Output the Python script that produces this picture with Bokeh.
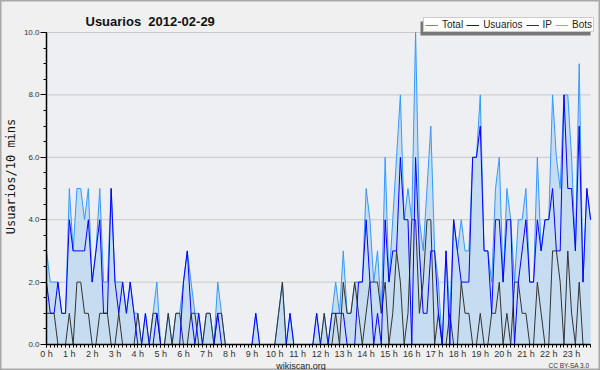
import math
from bokeh.plotting import figure
from bokeh.models import Range1d, FixedTicker, Label, Legend, LegendItem, BoxAnnotation
from bokeh.embed import file_html
from bokeh.resources import INLINE

# ---------------- data (10-minute slots, 2012-02-29) ----------------
hours = ["0 h", "1 h", "2 h", "3 h", "4 h", "5 h", "6 h", "7 h", "8 h", "9 h",
         "10 h", "11 h", "12 h", "13 h", "14 h", "15 h", "16 h", "17 h", "18 h",
         "19 h", "20 h", "21 h", "22 h", "23 h"]

total = [3, 2, 2, 2, 1, 1, 5, 3, 5, 5, 4, 5,
         2, 3, 5, 2, 2, 5, 2, 2, 2, 1, 2, 1,
         1, 0, 1, 0, 1, 2, 0, 0, 1, 0, 1, 1,
         2, 3, 2, 1, 1, 0, 1, 1, 0, 2, 1, 0,
         0, 0, 0, 0, 0, 0, 0, 1, 0, 0, 0, 0,
         0, 1, 2, 0, 1, 0, 0, 0, 0, 0, 0, 1,
         0, 1, 0, 1, 2, 1, 3, 1, 1, 2, 2, 2,
         5, 4, 2, 3, 1, 6, 2, 4, 6, 8, 4, 5,
         4, 10, 4, 3, 5, 7, 3, 2, 0, 3, 1, 4,
         3, 4, 3, 3, 6, 6, 8, 3, 3, 2, 5, 6,
         2, 5, 4, 2, 4, 4, 5, 2, 2, 6, 3, 4,
         4, 8, 6, 5, 8, 8, 6, 3, 9, 2, 5, 4]

usuarios = [2, 1, 1, 2, 1, 1, 4, 3, 3, 3, 3, 4,
            2, 3, 4, 1, 1, 5, 2, 1, 2, 1, 2, 1,
            0, 0, 1, 0, 0, 1, 0, 0, 0, 0, 0, 0,
            2, 3, 1, 0, 1, 0, 0, 0, 0, 1, 0, 0,
            0, 0, 0, 0, 0, 0, 0, 1, 0, 0, 0, 0,
            0, 0, 0, 0, 1, 0, 0, 0, 0, 0, 0, 1,
            0, 0, 0, 1, 1, 1, 1, 0, 0, 0, 2, 2,
            4, 2, 0, 1, 0, 4, 2, 3, 3, 6, 4, 4,
            0, 6, 3, 1, 1, 3, 3, 1, 0, 3, 0, 4,
            3, 2, 2, 2, 6, 6, 7, 3, 3, 1, 4, 4,
            2, 4, 4, 0, 2, 3, 4, 2, 2, 4, 3, 4,
            4, 5, 3, 3, 8, 5, 5, 3, 7, 2, 5, 4]

ip = [1, 1, 1, 0, 0, 0, 1, 0, 2, 2, 1, 1,
      0, 0, 1, 1, 1, 0, 0, 1, 0, 0, 0, 0,
      1, 0, 0, 0, 1, 1, 0, 0, 1, 0, 1, 1,
      0, 0, 1, 1, 0, 0, 1, 1, 0, 1, 1, 0,
      0, 0, 0, 0, 0, 0, 0, 0, 0, 0, 0, 0,
      0, 1, 2, 0, 0, 0, 0, 0, 0, 0, 0, 0,
      0, 1, 0, 0, 1, 0, 2, 1, 1, 2, 1, 0,
      1, 2, 2, 2, 1, 2, 0, 1, 3, 2, 0, 1,
      4, 4, 1, 2, 4, 4, 0, 1, 0, 0, 1, 0,
      0, 2, 1, 1, 0, 0, 1, 0, 0, 1, 1, 2,
      0, 1, 0, 2, 2, 1, 1, 0, 0, 2, 1, 0,
      0, 3, 3, 2, 0, 3, 1, 0, 2, 0, 0, 0]

bots = [0, 0, 0, 0, 0, 0, 0, 0, 0, 0, 0, 0,
        0, 0, 0, 0, 0, 0, 0, 0, 0, 0, 0, 0,
        0, 0, 0, 0, 0, 0, 0, 0, 0, 0, 0, 0,
        0, 0, 0, 0, 0, 0, 0, 0, 0, 0, 0, 0,
        0, 0, 0, 0, 0, 0, 0, 0, 0, 0, 0, 0,
        0, 0, 0, 0, 0, 0, 0, 0, 0, 0, 0, 0,
        0, 0, 0, 0, 0, 0, 0, 0, 0, 0, 0, 0,
        0, 0, 0, 0, 0, 0, 0, 0, 0, 0, 0, 0,
        0, 0, 0, 0, 0, 0, 0, 0, 0, 0, 0, 0,
        0, 0, 0, 0, 0, 0, 0, 0, 0, 0, 0, 0,
        0, 0, 0, 0, 0, 0, 0, 0, 0, 0, 0, 0,
        0, 0, 0, 0, 0, 0, 0, 0, 0, 0, 0, 0]

y_ticks = [0, 2, 4, 6, 8, 10]
y_labels = ["0.0", "2.0", "4.0", "6.0", "8.0", "10.0"]

# ---------------- layout (pixels) ----------------
W, H = 600, 370
X0_PX, STEP_PX = 46.0, 3.805      # x pixel of slot 0, pixels per 10-min slot
Y0_PX, UNIT_PX = 344.0, 31.2      # y pixel of value 0, pixels per unit

slots = list(range(len(total)))
hour_slots = [6 * h for h in range(len(hours))]
y_minor = [k / 2 for k in range(0, 21)]

x_lo = -X0_PX / STEP_PX
x_hi = (W - X0_PX) / STEP_PX
y_hi = Y0_PX / UNIT_PX
y_lo = -(H - Y0_PX) / UNIT_PX

FONT = "Liberation Sans"

p = figure(width=W, height=H, output_backend="svg", toolbar_location=None,
           title=None,
           x_range=Range1d(x_lo, x_hi), y_range=Range1d(y_lo, y_hi),
           min_border=0, min_border_left=0, min_border_right=0,
           min_border_top=0, min_border_bottom=0,
           background_fill_color="#f0f0f0", border_fill_color="#f0f0f0",
           outline_line_color="#a8a8a8", outline_line_width=2)

# plot area background
p.add_layout(BoxAnnotation(left=slots[0], right=slots[-1], bottom=y_ticks[0],
                           top=y_ticks[-1], fill_color="#eeeff2", fill_alpha=1.0,
                           line_color=None, level="underlay"))

# axes drawn at the data origin
xa = p.xaxis[0]
xa.fixed_location = 0
xa.bounds = (slots[0], slots[-1])
xa.ticker = FixedTicker(ticks=hour_slots, minor_ticks=slots)
xa.major_label_overrides = {s: h for s, h in zip(hour_slots, hours)}
xa.major_tick_out = 3
xa.major_tick_in = 0
xa.minor_tick_out = 3
xa.minor_tick_in = 0
xa.major_label_standoff = 1
xa.major_label_text_font = FONT
xa.major_label_text_font_size = "9px"
xa.major_label_text_color = "#333333"
xa.axis_line_color = "black"
xa.axis_line_width = 1.5
xa.major_tick_line_color = "black"
xa.minor_tick_line_color = "black"

ya = p.yaxis[0]
ya.fixed_location = 0
ya.bounds = (y_ticks[0], y_ticks[-1])
ya.ticker = FixedTicker(ticks=y_ticks, minor_ticks=y_minor)
ya.major_label_overrides = {t: l for t, l in zip(y_ticks, y_labels)}
ya.major_tick_out = 6
ya.major_tick_in = 0
ya.minor_tick_out = 3
ya.minor_tick_in = 0
ya.major_label_standoff = 1
ya.major_label_text_font = FONT
ya.major_label_text_font_size = "8px"
ya.major_label_text_color = "#333333"
ya.axis_line_color = "black"
ya.axis_line_width = 1.5

p.xgrid.visible = False
p.ygrid.visible = False
# horizontal grid lines only across the plot area
p.segment(x0=slots[0], x1=slots[-1], y0=y_ticks[1:], y1=y_ticks[1:],
          line_color="#c8c8c8", line_width=1)

# glyphs
p.varea(x=slots, y1=0, y2=total, fill_color="#c6dcf0", fill_alpha=1.0)
r_bots = p.line(slots, bots, line_color="#ff9900", line_width=1)
r_total = p.line(slots, total, line_color="#3399ff", line_width=1)
r_ip = p.line(slots, ip, line_color="#333333", line_width=1)
r_usu = p.line(slots, usuarios, line_color="#0000ff", line_width=1)

# legend with drop shadow
p.add_layout(BoxAnnotation(left=420, right=590, bottom=H - 35, top=H - 21,
                           left_units="screen", right_units="screen",
                           bottom_units="screen", top_units="screen",
                           fill_color="#777777", fill_alpha=1.0, line_color=None))
legend = Legend(items=[LegendItem(label="Total", renderers=[r_total]),
                       LegendItem(label="Usuarios", renderers=[r_usu]),
                       LegendItem(label="IP", renderers=[r_ip]),
                       LegendItem(label="Bots", renderers=[r_bots])],
                orientation="horizontal", location=(423, H - 32),
                label_text_font=FONT, label_text_font_size="10px",
                label_text_color="#222222",
                glyph_width=13, glyph_height=10, label_standoff=4, spacing=3,
                padding=1, margin=0, label_height=10, label_width=0,
                border_line_color="#999999", border_line_width=1,
                background_fill_color="white", background_fill_alpha=1.0)
p.add_layout(legend)

# texts
p.add_layout(Label(x=85, y=H - 20.7, x_units="screen", y_units="screen",
                   text="Usuarios \u00a02012-02-29", text_font=FONT,
                   text_font_style="bold", text_font_size="13px",
                   text_color="#111111", text_baseline="alphabetic"))
p.add_layout(Label(x=3, y=H - 176, x_units="screen", y_units="screen",
                   text="Usuarios/10 mins", angle=math.pi / 2,
                   text_font="DejaVu Sans Mono", text_font_size="12px",
                   text_color="#111111", text_align="center",
                   text_baseline="top"))
p.add_layout(Label(x=300.5, y=H - 365, x_units="screen", y_units="screen",
                   text="wikiscan.org", text_font=FONT, text_font_size="9px",
                   text_color="#222222", text_align="center",
                   text_baseline="alphabetic"))
p.add_layout(Label(x=589, y=H - 364.5, x_units="screen", y_units="screen",
                   text="CC BY-SA 3.0", text_font=FONT, text_font_size="6.5px",
                   text_color="#333333", text_align="right",
                   text_baseline="alphabetic"))

open("out.html", "w").write(file_html(p, INLINE))
